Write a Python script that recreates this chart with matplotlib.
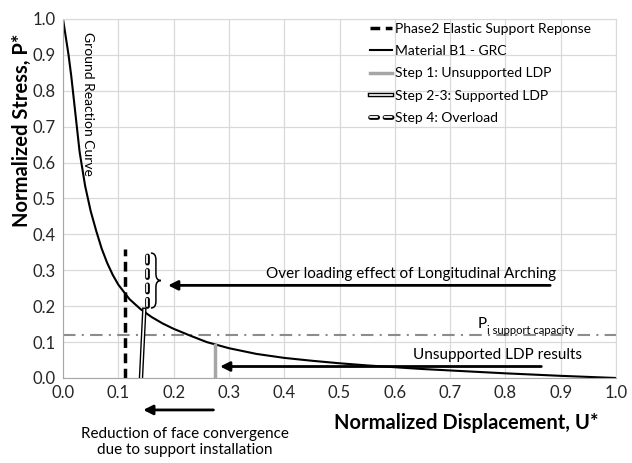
import matplotlib
matplotlib.use('Agg')
import matplotlib.pyplot as plt
import matplotlib.patheffects as pe
from matplotlib.path import Path
from matplotlib.patches import PathPatch

plt.rcParams['font.family'] = ['Lato', 'DejaVu Sans']

#
# data
#
grc_u = [0.0, 0.002, 0.005, 0.01, 0.015, 0.02, 0.025, 0.03, 0.04, 0.05, 0.06, 0.07,
         0.08, 0.09, 0.10, 0.12, 0.14, 0.16, 0.18, 0.20, 0.23, 0.26, 0.30, 0.35,
         0.40, 0.45, 0.50, 0.55, 0.60, 0.65, 0.70, 0.75, 0.80, 0.85, 0.90, 0.95, 1.0]
grc_p = [1.0, 0.98, 0.95, 0.90, 0.84, 0.77, 0.70, 0.63, 0.535, 0.465, 0.41, 0.36,
         0.32, 0.287, 0.26, 0.22, 0.192, 0.17, 0.152, 0.137, 0.118, 0.10, 0.083, 0.067,
         0.056, 0.048, 0.041, 0.035, 0.030, 0.025, 0.021, 0.017, 0.013, 0.0095, 0.006, 0.003, 0.0]

phase2_u = [0.112, 0.112]
phase2_p = [0.0, 0.36]

step1_u = [0.274, 0.274]
step1_p = [0.0, 0.091]

step23_u = [0.141, 0.147]
step23_p = [0.0, 0.19]

step4_u = [0.152, 0.152]
step4_p = [0.20, 0.35]

p_support = 0.12

ticks = [0.0, 0.1, 0.2, 0.3, 0.4, 0.5, 0.6, 0.7, 0.8, 0.9, 1.0]

#
# helpers
#
def double_line(lw_out, lw_in):
    return dict(color='white', lw=lw_in,
                path_effects=[pe.Stroke(linewidth=lw_out, foreground='black'), pe.Normal()])


def draw_brace(ax, x, y0, y1, w):
    ym = (y0 + y1) / 2.0
    r = (y1 - y0) * 0.12
    xm = x + w * 0.5
    verts = [(x, y1), (xm, y1), (xm, y1 - r),
             (xm, ym + r), (xm, ym), (x + w, ym),
             (xm, ym), (xm, ym - r),
             (xm, y0 + r), (xm, y0), (x, y0)]
    codes = [Path.MOVETO, Path.CURVE3, Path.CURVE3,
             Path.LINETO, Path.CURVE3, Path.CURVE3,
             Path.CURVE3, Path.CURVE3,
             Path.LINETO, Path.CURVE3, Path.CURVE3]
    ax.add_patch(PathPatch(Path(verts, codes), fill=False, lw=1.1, ec='black'))


#
# plot
#
fig = plt.figure(figsize=(6.32, 4.63), dpi=100)
ax = fig.add_axes([0.0997, 0.1836, 0.8750, 0.7754])

ax.plot(phase2_u, phase2_p, color='black', lw=2.5, linestyle=(0, (2.8, 1.6)),
        label='Phase2 Elastic Support Reponse')
ax.plot(grc_u, grc_p, color='black', lw=1.5, label='Material B1 - GRC')
ax.plot(step1_u, step1_p, color='#a6a6a6', lw=2.5, label='Step 1: Unsupported LDP')
ax.plot(step23_u, step23_p, label='Step 2-3: Supported LDP', **double_line(3.2, 1.2))
ax.plot(step4_u, step4_p, linestyle=(0, (4.0, 4.0)), dash_capstyle='round',
        label='Step 4: Overload', **double_line(3.4, 1.3))

ax.axhline(p_support, color='#8c8c8c', lw=1.5, linestyle=(0, (6, 3, 1, 3)), zorder=1)

ax.set_xlim(0, 1)
ax.set_ylim(0, 1)
ax.set_xticks(ticks)
ax.set_yticks(ticks)
ax.set_xticklabels(['%.1f' % t for t in ticks])
ax.set_yticklabels(['%.1f' % t for t in ticks])
ax.tick_params(length=0, labelsize=12, colors='#262626', pad=5)
ax.grid(True, color='#d9d9d9', lw=0.9)
ax.set_axisbelow(True)
for s in ax.spines.values():
    s.set_color('#d9d9d9')
ax.spines['left'].set_color('#a6a6a6')
ax.spines['bottom'].set_color('#a6a6a6')

ax.text(0.73, -0.125, 'Normalized Displacement, U*', transform=ax.transAxes,
        ha='center', va='center', fontsize=14.5, fontweight='bold')
ax.text(-0.074, 0.69, 'Normalized Stress, P*', transform=ax.transAxes, rotation=90,
        ha='center', va='center', fontsize=14.5, fontweight='bold')

ax.text(0.046, 0.965, 'Ground Reaction Curve', rotation=270, ha='center', va='top',
        fontsize=10)

# annotations
draw_brace(ax, 0.159, 0.195, 0.348, 0.018)
ax.annotate('', xy=(0.185, 0.258), xytext=(0.886, 0.258),
            arrowprops=dict(arrowstyle='-|>', color='black', lw=2, mutation_scale=14))
ax.text(0.63, 0.29, 'Over loading effect of Longitudinal Arching', ha='center',
        va='center', fontsize=11)

ax.annotate('', xy=(0.279, 0.032), xytext=(0.87, 0.032),
            arrowprops=dict(arrowstyle='-|>', color='black', lw=2, mutation_scale=14))
ax.text(0.785, 0.064, 'Unsupported LDP results', ha='center', va='center', fontsize=11)

ax.text(0.75, 0.15, 'P', ha='left', va='center', fontsize=11)
ax.text(0.767, 0.132, 'i support capacity', ha='left', va='center', fontsize=8)

ax.annotate('', xy=(0.14, -0.089), xytext=(0.277, -0.089), annotation_clip=False,
            arrowprops=dict(arrowstyle='-|>', color='black', lw=2, mutation_scale=14))
ax.text(0.22, -0.178, 'Reduction of face convergence\ndue to support installation',
        ha='center', va='center', fontsize=11, linespacing=1.25)

leg = ax.legend(loc='upper left', bbox_to_anchor=(0.54, 1.013), frameon=False,
                fontsize=10, handlelength=1.6, handletextpad=0.2, labelspacing=0.75,
                borderaxespad=0.2)

fig.savefig('out.png', dpi=100)
plt.close(fig)
